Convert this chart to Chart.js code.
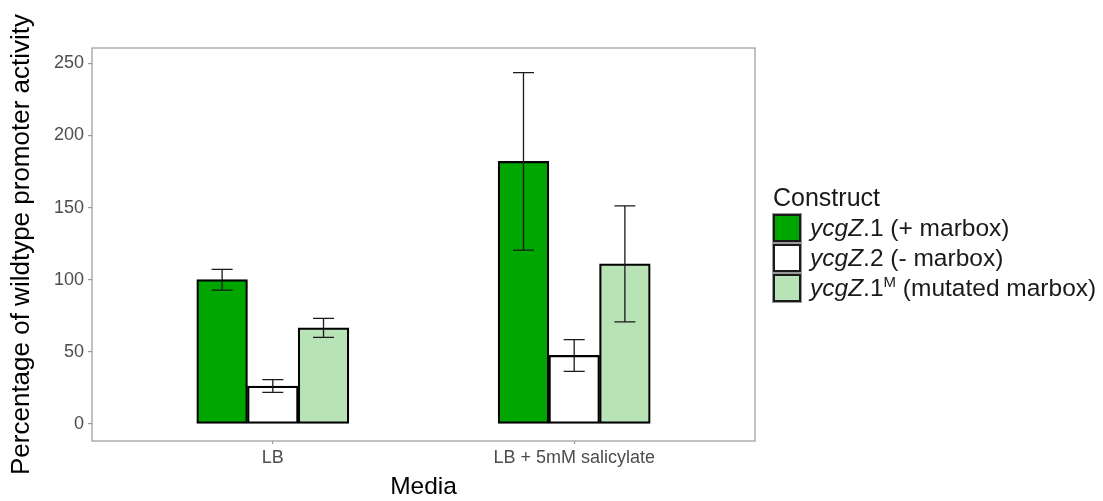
<!DOCTYPE html>
<html>
<head>
<meta charset="utf-8">
<script src="https://cdn.jsdelivr.net/npm/chart.js@4.4.1/dist/chart.umd.min.js"></script>
<style>
  html, body { margin: 0; padding: 0; background: #ffffff; }
  #wrap { position: relative; width: 1103px; height: 501px; overflow: hidden; }
  #chart { position: absolute; left: 0; top: 0; }
  .lg { position: absolute; font-family: "Liberation Sans", Arial, sans-serif; color: #1a1a1a; white-space: nowrap; }
  .lg-title { font-size: 25px; line-height: 25px; }
  .lg-swatch { position: absolute; width: 24px; height: 24px; border: 2px solid #1a1a1a; box-shadow: 0 0 0 1px #9a9a9a; }
  .lg-text { font-size: 24.5px; line-height: 28px; }
  .lg-text sup { font-size: 15px; line-height: 0; vertical-align: 9px; }
</style>
</head>
<body>
<div id="wrap">
  <canvas id="chart" width="1103" height="501"></canvas>
  <div id="legend"></div>
</div>
<script>
// ---------------- data ----------------
const categories = ['LB', 'LB + 5mM salicylate'];
const seriesNames = ['ycgZ.1 (+ marbox)', 'ycgZ.2 (- marbox)', 'ycgZ.1M (mutated marbox)'];
const seriesLegendHtml = [
  '<i>ycgZ</i>.1 (+ marbox)',
  '<i>ycgZ</i>.2 (- marbox)',
  '<i>ycgZ</i>.1<sup>M</sup> (mutated marbox)'
];
const plusMarbox = [100, 182];
const minusMarbox = [26.3, 47.5];
const mutatedMarbox = [66.6, 111];
const plusMarboxErr = [7.2, 61.5];
const minusMarboxErr = [4.4, 11];
const mutatedMarboxErr = [6.6, 40.2];
const yTickValues = [0, 50, 100, 150, 200, 250];
const seriesColors = ['#00a600', '#ffffff', '#b7e3b7'];

// ---------------- build ----------------
const seriesValues = [plusMarbox, minusMarbox, mutatedMarbox];
const seriesErrors = [plusMarboxErr, minusMarboxErr, mutatedMarboxErr];
const FONT = '"Liberation Sans", Arial, sans-serif';

const datasets = seriesValues.map((vals, s) => ({
  label: seriesNames[s],
  data: vals.map((v, i) => ({ x: i + 1, y: v })),
  errors: seriesErrors[s],
  backgroundColor: seriesColors[s],
  borderColor: '#000000',
  borderWidth: 2.2,
  borderSkipped: false,
  barThickness: 50.7
}));

const panelBorder = {
  id: 'panelBorder',
  afterDraw(chart) {
    const { ctx, chartArea: a } = chart;
    ctx.save();
    ctx.strokeStyle = '#9a9a9a';
    ctx.lineWidth = 1.2;
    ctx.strokeRect(a.left, a.top, a.right - a.left, a.bottom - a.top);
    ctx.restore();
  }
};

const errorBars = {
  id: 'errorBars',
  afterDatasetsDraw(chart) {
    const { ctx } = chart;
    const yScale = chart.scales.y;
    ctx.save();
    ctx.strokeStyle = '#1a1a1a';
    ctx.lineWidth = 1.3;
    chart.data.datasets.forEach((ds, d) => {
      const meta = chart.getDatasetMeta(d);
      meta.data.forEach((bar, i) => {
        const v = ds.data[i].y, e = ds.errors[i];
        const yTop = yScale.getPixelForValue(v + e);
        const yBot = yScale.getPixelForValue(v - e);
        const x = bar.x, half = 10.5;
        ctx.beginPath();
        ctx.moveTo(x, yTop); ctx.lineTo(x, yBot);
        ctx.moveTo(x - half, yTop); ctx.lineTo(x + half, yTop);
        ctx.moveTo(x - half, yBot); ctx.lineTo(x + half, yBot);
        ctx.stroke();
      });
    });
    ctx.restore();
  }
};

new Chart(document.getElementById('chart'), {
  type: 'bar',
  data: { datasets },
  options: {
    responsive: false,
    animation: false,
    devicePixelRatio: 1,
    layout: { padding: { left: 0, right: 348, top: 48, bottom: 0 } },
    plugins: { legend: { display: false }, tooltip: { enabled: false } },
    scales: {
      x: {
        type: 'linear',
        min: 0.4,
        max: 2.6,
        offset: false,
        afterBuildTicks(scale) { scale.ticks = categories.map((c, i) => ({ value: i + 1 })); },
        afterFit(scale) { scale.height = 60; },
        ticks: {
          callback: (v) => categories[Math.round(v) - 1],
          color: '#4d4d4d',
          font: { family: FONT, size: 18 },
          padding: 3,
          maxRotation: 0,
          autoSkip: false
        },
        grid: { display: true, offset: false, drawOnChartArea: false, drawTicks: true, tickLength: 3, color: '#9a9a9a', lineWidth: 1.2 },
        border: { display: false },
        title: {
          display: true,
          text: 'Media',
          color: '#000000',
          font: { family: FONT, size: 24.5, lineHeight: 1.1 },
          padding: { top: 0, bottom: 0 }
        }
      },
      y: {
        type: 'linear',
        min: -11.8,
        max: 260.6,
        afterBuildTicks(scale) { scale.ticks = yTickValues.map(v => ({ value: v })); },
        afterFit(scale) { scale.width = 92; },
        ticks: {
          color: '#4d4d4d',
          font: { family: FONT, size: 18 },
          padding: 4
        },
        grid: { display: true, offset: false, drawOnChartArea: false, drawTicks: true, tickLength: 4, color: '#9a9a9a', lineWidth: 1.2 },
        border: { display: false },
        title: {
          display: true,
          text: 'Percentage of wildtype promoter activity',
          color: '#000000',
          font: { family: FONT, size: 26, lineHeight: 1.2 },
          padding: { top: 6, bottom: 0 }
        }
      }
    }
  },
  plugins: [panelBorder, errorBars]
});

// ---------------- legend (HTML, built from series arrays) ----------------
const legend = document.getElementById('legend');
const title = document.createElement('div');
title.className = 'lg lg-title';
title.style.left = '773px';
title.style.top = '185px';
title.textContent = 'Construct';
legend.appendChild(title);
seriesNames.forEach((name, s) => {
  const top = 214 + s * 30;
  const sw = document.createElement('div');
  sw.className = 'lg-swatch';
  sw.style.left = '773px';
  sw.style.top = top + 'px';
  sw.style.background = seriesColors[s];
  legend.appendChild(sw);
  const tx = document.createElement('div');
  tx.className = 'lg lg-text';
  tx.style.left = '810px';
  tx.style.top = top + 'px';
  tx.innerHTML = seriesLegendHtml[s];
  legend.appendChild(tx);
});
</script>
</body>
</html>
